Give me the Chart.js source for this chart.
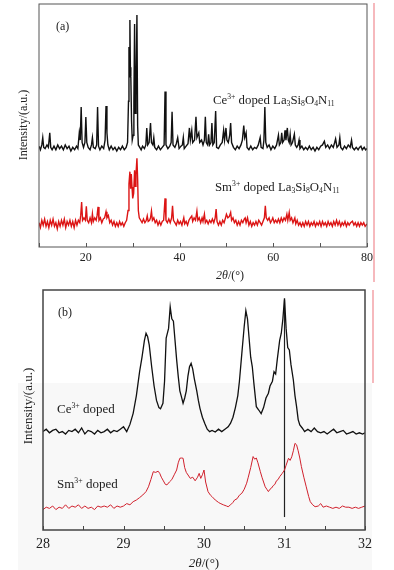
<!DOCTYPE html>
<html>
<head>
<meta charset="utf-8">
<script src="https://cdn.jsdelivr.net/npm/chart.js@4.4.1/dist/chart.umd.min.js"></script>
<style>
  body { margin: 0; background: #fff; }
  #wrap { position: relative; width: 394px; height: 570px; overflow: hidden; font-family: "Liberation Serif", "DejaVu Serif", serif; color: #222; }
  canvas { position: absolute; left: 0; }
  .lbl { position: absolute; white-space: nowrap; transform: translate(0, -50%); line-height: 1; }
  .ctr { position: absolute; white-space: nowrap; transform: translate(-50%, -50%); line-height: 1; }
  .rot { position: absolute; white-space: nowrap; transform: translate(-50%, -50%) rotate(-90deg); line-height: 1; }
  sup { font-size: 0.6em; vertical-align: 0.55em; line-height: 0; }
  sub { font-size: 0.6em; vertical-align: -0.25em; line-height: 0; }
  .pink { position: absolute; width: 2px; background: #f6b9bd; }
  .shade { position: absolute; background: #f8f8f8; }
</style>
</head>
<body>
<div id="wrap">
  <div class="shade" style="left:18px;top:383px;width:354px;height:187px;"></div>
  <canvas id="chartA" width="394" height="282" style="top:0"></canvas>
  <canvas id="chartB" width="394" height="290" style="top:280px"></canvas>
  <div class="pink" style="left:373px;top:3px;height:279px;"></div>
  <div class="pink" style="left:372px;top:290px;height:93px;"></div>

  <div class="lbl" style="left:56px;top:26px;font-size:12px;">(a)</div>
  <div class="lbl" style="left:213px;top:100px;font-size:12.8px;">Ce<sup>3+</sup> doped La<sub>3</sub>Si<sub>8</sub>O<sub>4</sub>N<sub>11</sub></div>
  <div class="lbl" style="left:215px;top:187px;font-size:12.8px;">Sm<sup>3+</sup> doped La<sub>3</sub>Si<sub>8</sub>O<sub>4</sub>N<sub>11</sub></div>
  <div class="ctr" style="left:230px;top:275px;font-size:12px;"><i>2θ</i>/(°)</div>
  <div class="rot" style="left:23px;top:125px;font-size:12px;">Intensity/(a.u.)</div>

  <div class="lbl" style="left:58px;top:312px;font-size:12px;">(b)</div>
  <div class="lbl" style="left:57px;top:408px;font-size:13px;">Ce<sup>3+</sup> doped</div>
  <div class="lbl" style="left:57px;top:483px;font-size:13px;">Sm<sup>3+</sup> doped</div>
  <div class="ctr" style="left:204px;top:562px;font-size:13px;"><i>2θ</i>/(°)</div>
  <div class="rot" style="left:27px;top:406px;font-size:13px;">Intensity/(a.u.)</div>
</div>
<script>
// panel (a): 2theta 10-80, intensity in arbitrary units (0-100 of plot height)
var ceA = [
  [10.0,41.5],[10.3,40],[10.6,42],[10.8,45],[11.0,41],[11.3,40.5],[11.7,42],[12.0,41],[12.3,47],[12.5,41],
  [12.8,40],[13.2,41.5],[13.6,40],[14.0,42],[14.4,40.5],[14.8,41.5],[15.2,40],[15.6,42],[16.0,40.5],[16.4,41.5],
  [16.8,39.5],[17.2,41],[17.6,40],[18.0,41.5],[18.3,40.5],[18.6,47],[18.8,44],[19.0,57.6],[19.2,43],[19.5,41],
  [19.8,43],[20.0,53.5],[20.2,43],[20.5,41],[20.9,40],[21.2,42],[21.4,45],[21.6,41],[22.0,40.5],[22.3,42],
  [22.5,57.6],[22.7,41.5],[23.0,40],[23.4,41.5],[23.8,40.5],[24.1,44],[24.3,58],[24.5,47],[24.7,42],[25.0,40],
  [25.4,41.5],[25.8,40],[26.2,41],[26.6,39.5],[27.0,41],[27.4,40],[27.8,41.5],[28.2,40],[28.6,41],[28.9,43],
  [29.1,60],[29.2,82.3],[29.3,70],[29.4,93.4],[29.5,74],[29.6,70],[29.75,52],[29.9,44],[30.1,46],[30.25,60],
  [30.4,91.8],[30.55,55],[30.7,62],[30.9,95.5],[31.05,50],[31.2,42],[31.5,41],[31.8,40],[32.1,41.5],[32.5,40.5],
  [32.8,42],[33.0,49],[33.2,42],[33.5,43],[33.8,51],[34.0,43],[34.3,42],[34.5,45],[34.7,41],[35.1,40],
  [35.5,41.5],[35.9,40],[36.3,41],[36.7,42],[36.9,64],[37.1,42],[37.5,40.5],[37.9,41.5],[38.2,43],[38.4,55.6],
  [38.6,42],[39.0,41],[39.3,42.5],[39.6,45],[39.9,40.5],[40.3,41.5],[40.6,42],[40.8,45],[41.0,40.5],[41.4,41.5],
  [41.8,42.5],[42.1,49],[42.3,44],[42.6,48],[42.8,43],[43.2,44],[43.5,53.6],[43.7,45],[44.1,47],[44.3,43],
  [44.7,44],[45.0,42],[45.3,44],[45.5,53.6],[45.7,43],[46.0,42],[46.2,46.4],[46.4,42],[46.7,43],[46.9,51],
  [47.1,42],[47.4,43],[47.7,56],[47.9,41],[48.3,40.5],[48.7,42],[49.1,43],[49.4,48],[49.6,44],[49.9,49],
  [50.1,44],[50.4,43],[50.7,46],[50.9,51],[51.1,43],[51.5,41],[51.9,40],[52.3,41.5],[52.7,40.5],[53.1,42],
  [53.4,44],[53.7,50],[53.9,45],[54.2,47],[54.4,41],[54.8,40],[55.2,41.5],[55.6,40],[56.0,41],[56.4,40.5],
  [56.8,42],[57.2,45],[57.4,41],[57.8,40.5],[58.0,44],[58.2,57.6],[58.4,43],[58.7,41],[59.1,42],[59.5,40],
  [59.9,41.5],[60.3,40.5],[60.7,42],[61.1,46],[61.3,42],[61.6,43],[61.8,47],[62.0,43],[62.3,44],[62.5,48],
  [62.7,44],[63.0,49],[63.2,44],[63.4,43],[63.6,46.4],[63.8,42],[64.1,43],[64.5,46.4],[64.7,42],[65.0,41],
  [65.3,42],[65.5,44],[65.7,40.5],[66.1,41.5],[66.5,40],[66.9,41],[67.3,40],[67.7,41.5],[68.1,40],[68.5,41],
  [68.9,39.5],[69.3,41],[69.7,40],[70.1,41.5],[70.5,42],[70.9,43.5],[71.2,41],[71.6,42],[72.0,40.5],[72.4,42],
  [72.8,41],[73.1,43],[73.3,44.5],[73.6,41],[74.0,42],[74.2,45],[74.4,41],[74.8,40],[75.2,41.5],[75.6,40.5],
  [76.0,42],[76.4,41],[76.7,44],[76.9,41],[77.3,40],[77.7,41],[78.1,40],[78.4,41],[78.7,41.5],[79.0,40],
  [79.4,41],[79.7,40],[80.0,40.5]
];
var smA = [
  [10.0,10],[10.3,8],[10.6,11],[10.9,9],[11.2,11.5],[11.5,8.5],[11.8,10.5],[12.1,8],[12.4,11],[12.7,9],
  [13.0,11.5],[13.3,8.5],[13.6,10],[13.9,7.5],[14.2,10.5],[14.5,8.5],[14.8,11],[15.1,9],[15.4,11.5],[15.7,8],
  [16.0,10.5],[16.3,9],[16.6,11],[16.9,8.5],[17.2,10.5],[17.5,8],[17.8,11],[18.1,9],[18.4,11],[18.7,10],
  [18.9,13],[19.1,18.5],[19.3,11],[19.6,12],[19.9,11],[20.1,16.7],[20.3,11],[20.6,10],[20.9,12],[21.2,10],
  [21.4,13.7],[21.6,10.5],[21.9,12],[22.2,11],[22.4,13],[22.6,16.5],[22.8,11],[23.1,12],[23.4,10],[23.7,11.5],
  [24.0,12],[24.3,14.5],[24.5,12],[24.8,13],[25.1,10],[25.4,11],[25.7,9],[26.0,10.5],[26.3,8.5],[26.6,10],
  [26.9,8.5],[27.2,10.5],[27.5,9],[27.8,10],[28.1,8.5],[28.4,10],[28.7,11],[29.0,15],[29.2,26],[29.4,31],
  [29.55,24],[29.7,30],[29.85,24.7],[30.0,20],[30.2,22],[30.4,31.6],[30.55,25],[30.7,30],[30.9,36.5],[31.05,28],
  [31.2,15],[31.4,12],[31.7,11],[32.0,10],[32.3,11.5],[32.6,10],[32.9,11],[33.1,12.8],[33.3,10.5],[33.6,11],
  [33.8,12],[34.0,14.8],[34.2,11],[34.5,12],[34.8,10],[35.1,11],[35.4,9],[35.7,10.5],[36.0,9],[36.3,10.5],
  [36.6,11],[36.9,20],[37.1,11],[37.4,10],[37.7,11.5],[38.0,10],[38.3,12],[38.5,17],[38.7,11],[39.0,10],
  [39.3,9],[39.6,11],[39.9,9.5],[40.2,10.5],[40.5,9],[40.9,12],[41.1,9.5],[41.4,10.5],[41.7,9],[42.0,11],
  [42.3,12],[42.6,12.8],[42.8,10.5],[43.1,12],[43.4,11],[43.7,14.8],[43.9,11],[44.2,12],[44.5,10],[44.8,12],
  [45.0,10.5],[45.3,13.5],[45.5,10],[45.8,11],[46.1,9.5],[46.4,11],[46.7,10],[47.0,11.5],[47.3,10],[47.6,12],
  [47.8,15.6],[48.0,10.5],[48.3,9],[48.6,10.5],[48.9,9],[49.2,11],[49.5,10],[49.8,12],[50.0,13.5],[50.3,12],
  [50.6,12.5],[50.9,14.2],[51.1,11],[51.4,12],[51.7,10],[52.0,11],[52.3,9],[52.6,10.5],[52.9,9],[53.2,11],
  [53.5,10],[53.8,11.5],[54.0,12],[54.2,10],[54.5,12],[54.8,9],[55.1,10.5],[55.4,8.5],[55.7,10],[56.0,9],
  [56.3,10.5],[56.6,9],[56.9,11],[57.2,10],[57.5,9],[57.8,10.5],[58.1,12],[58.3,17],[58.5,12],[58.8,11],
  [59.1,12],[59.4,10],[59.7,11],[59.9,12],[60.2,10],[60.5,11],[60.8,10],[61.1,11.5],[61.4,10],[61.7,12],
  [62.0,10.5],[62.3,12],[62.6,11],[62.9,13.5],[63.1,11],[63.4,14.2],[63.6,11],[63.9,12],[64.2,10],[64.6,12],
  [64.8,9.5],[65.1,11],[65.4,9],[65.7,10],[66.0,8.5],[66.3,10],[66.6,8.5],[66.9,10.5],[67.2,9],[67.5,10.5],
  [67.8,8.5],[68.1,10],[68.4,9],[68.7,10.5],[69.0,8.5],[69.3,10],[69.6,9],[69.9,10.5],[70.2,8.5],[70.5,10.5],
  [70.8,9],[71.1,10],[71.4,8.5],[71.7,10.5],[72.0,9],[72.3,10],[72.6,8.5],[72.9,10.5],[73.2,9],[73.5,11],
  [73.8,9],[74.1,10.5],[74.4,8.5],[74.7,10],[75.0,9],[75.3,10.5],[75.6,8.5],[75.9,10],[76.2,9],[76.5,10],
  [76.9,10.6],[77.2,9],[77.5,10],[77.8,8.5],[78.1,10],[78.4,8.5],[78.7,10],[79.0,9],[79.3,10],[79.6,8.5],
  [80.0,9.5]
];

// panel (b): zoom on 28-32
var ceB = [
  [28.00,41],[28.04,42],[28.08,40.5],[28.12,41.5],[28.16,42],[28.20,40.5],[28.24,41],[28.28,40],[28.32,41.5],[28.36,41],
  [28.40,42],[28.44,40.5],[28.48,42.5],[28.52,40],[28.56,41.5],[28.60,41],[28.64,40],[28.68,41.5],[28.72,40.5],[28.76,41],
  [28.80,42],[28.84,40.5],[28.88,41.5],[28.92,41],[28.96,42],[29.00,43],[29.04,41],[29.08,44],[29.12,48.6],[29.16,56],
  [29.20,66],[29.23,72],[29.26,79],[29.28,82],[29.30,80.5],[29.32,77],[29.35,68],[29.38,60],[29.41,54],[29.44,51],
  [29.46,50.5],[29.49,52.8],[29.51,62],[29.53,80],[29.56,84],[29.58,93],[29.60,88],[29.62,87],[29.64,79],[29.66,71],
  [29.68,64],[29.70,58],[29.72,55.5],[29.74,52.8],[29.76,55],[29.78,58],[29.80,64],[29.82,68],[29.84,69.4],[29.86,67],
  [29.88,63],[29.91,58],[29.93,54],[29.95,50.7],[29.98,47],[30.01,44.4],[30.04,42],[30.07,41],[30.10,41.5],[30.14,40.8],
  [30.18,42],[30.22,41],[30.26,42],[30.30,43],[30.33,44.5],[30.36,47],[30.39,51],[30.42,56],[30.44,62],[30.47,73.6],
  [30.50,85],[30.52,91.4],[30.54,88],[30.56,80],[30.58,72],[30.60,68],[30.62,61],[30.65,51.4],[30.68,50],[30.71,48.5],
  [30.74,51],[30.77,55],[30.80,57],[30.82,60],[30.85,62],[30.87,66],[30.89,65],[30.91,71],[30.94,79],[30.96,82],
  [30.98,88],[31.00,96.5],[31.02,84],[31.04,76],[31.06,75],[31.08,69],[31.11,62.5],[31.13,56],[31.15,51.4],[31.17,46],
  [31.19,43.8],[31.22,42.5],[31.25,41],[31.29,42],[31.33,41],[31.37,42.5],[31.41,41],[31.45,40.5],[31.49,41],[31.53,40],
  [31.57,41],[31.61,42],[31.65,40.5],[31.69,41],[31.73,41.5],[31.77,40],[31.81,40.5],[31.85,41],[31.89,40],[31.93,40.5],
  [31.97,40],[32.00,40.5]
];
var smB = [
  [28.00,8.5],[28.04,9.5],[28.08,9],[28.12,10],[28.16,8.5],[28.20,9.5],[28.24,9],[28.28,10.5],[28.32,9],[28.36,10],
  [28.40,9.5],[28.44,10.5],[28.48,9],[28.52,10],[28.56,9],[28.60,9.5],[28.64,8.5],[28.68,10],[28.72,9.5],[28.76,10],
  [28.80,9.5],[28.84,10.5],[28.88,9],[28.92,10],[28.96,9.5],[29.00,10],[29.04,11],[29.08,10.5],[29.12,11.8],[29.16,12.5],
  [29.20,13.5],[29.24,14.6],[29.28,16],[29.31,18],[29.34,21],[29.37,24.3],[29.40,24],[29.43,24.5],[29.45,23.6],[29.47,22],
  [29.49,20.8],[29.52,19],[29.54,18.8],[29.57,20],[29.60,21],[29.63,23],[29.66,25],[29.68,28],[29.70,29.9],[29.72,30],
  [29.74,29.9],[29.76,26],[29.78,24],[29.81,22.5],[29.83,21.5],[29.86,22],[29.89,20.5],[29.92,22],[29.94,23.6],[29.96,21.5],
  [29.98,23],[30.00,25],[30.02,20],[30.05,16],[30.08,14.5],[30.10,13.9],[30.14,12.5],[30.18,11.5],[30.20,11.1],[30.24,10.5],
  [30.28,10],[30.30,9.7],[30.33,10.5],[30.36,11.5],[30.38,12.5],[30.41,13],[30.44,14.5],[30.47,15.3],[30.50,17],[30.53,19.5],
  [30.55,22],[30.58,26],[30.61,30.6],[30.63,29.5],[30.65,30],[30.67,28],[30.70,24.3],[30.72,22],[30.74,20],[30.76,18],
  [30.78,17],[30.80,16],[30.82,17],[30.84,17.5],[30.86,18.5],[30.88,19],[30.90,20.5],[30.92,21],[30.94,22.2],[30.97,23.5],
  [31.00,25],[31.02,27],[31.05,29.9],[31.07,29],[31.09,30.5],[31.11,33],[31.13,36.1],[31.15,35.5],[31.17,33],[31.19,30],
  [31.21,26.4],[31.24,22],[31.27,18],[31.30,14],[31.32,11.8],[31.35,10.5],[31.38,9.7],[31.42,10],[31.45,11],[31.48,9.5],
  [31.52,10],[31.56,9.5],[31.60,9],[31.64,9.5],[31.68,9],[31.72,10],[31.76,9.5],[31.80,9.5],[31.84,9],[31.88,9.5],
  [31.92,9],[31.96,9.5],[32.00,10]
];
// reference line at 31 degrees in (b)
var refLineB = [[31, 5.4], [31, 95.8]];

function pts(arr) {
  return arr.map(function(p) { return {x: p[0], y: p[1]}; });
}

// box around the plot and short inward ticks on the x axis
var framePlugin = {
  id: 'frame',
  afterDatasetsDraw: function(chart, args, opts) {
    var ctx = chart.ctx, a = chart.chartArea, x = chart.scales.x;
    ctx.save();
    ctx.strokeStyle = opts.color;
    ctx.lineWidth = opts.width;
    ctx.strokeRect(a.left, a.top, a.right - a.left, a.bottom - a.top);
    ctx.beginPath();
    ctx.lineWidth = 1;
    x.ticks.forEach(function(t) {
      var px = Math.round(x.getPixelForValue(t.value)) + 0.5;
      ctx.moveTo(px, a.bottom);
      ctx.lineTo(px, a.bottom - opts.tick);
    });
    ctx.stroke();
    ctx.restore();
  }
};

function makeChart(id, sets, xopt, pad, xh, tickFont, tickPad, frame) {
  return new Chart(document.getElementById(id), {
    type: 'line',
    data: { datasets: sets },
    options: {
      responsive: false,
      animation: false,
      layout: { padding: pad },
      elements: { point: { radius: 0 }, line: { tension: 0 } },
      plugins: { legend: { display: false }, tooltip: { enabled: false }, frame: frame },
      scales: {
        x: {
          type: 'linear', min: xopt.min, max: xopt.max,
          grid: { display: false, drawTicks: false },
          border: { display: false },
          ticks: {
            stepSize: xopt.step, autoSkip: false, maxRotation: 0, padding: tickPad,
            color: '#222', font: { family: 'Liberation Serif', size: tickFont },
            callback: xopt.label
          },
          afterFit: function(s) { s.height = xh; }
        },
        y: { display: false, min: 0, max: 100 }
      }
    },
    plugins: [framePlugin]
  });
}

makeChart('chartA', [
  { data: pts(ceA), borderColor: '#111', borderWidth: 1.4 },
  { data: pts(smA), borderColor: '#dc1414', borderWidth: 1.4 }
], { min: 10, max: 80, step: 10, label: function(v) { return v % 20 === 0 ? v : ''; } },
  { left: 39, right: 27, top: 4, bottom: 0 }, 35, 12, 4,
  { color: '#555', width: 1, tick: 4 });

makeChart('chartB', [
  { data: pts(ceB), borderColor: '#111', borderWidth: 1.3 },
  { data: pts(smB), borderColor: '#d0202c', borderWidth: 1 },
  { data: pts(refLineB), borderColor: '#222', borderWidth: 1.2 }
], { min: 28, max: 32, step: 0.5, label: function(v) { return Number.isInteger(v) ? v : ''; } },
  { left: 43, right: 29, top: 10, bottom: 0 }, 40, 14, 6,
  { color: '#444', width: 1.5, tick: 4 });
</script>
</body>
</html>
